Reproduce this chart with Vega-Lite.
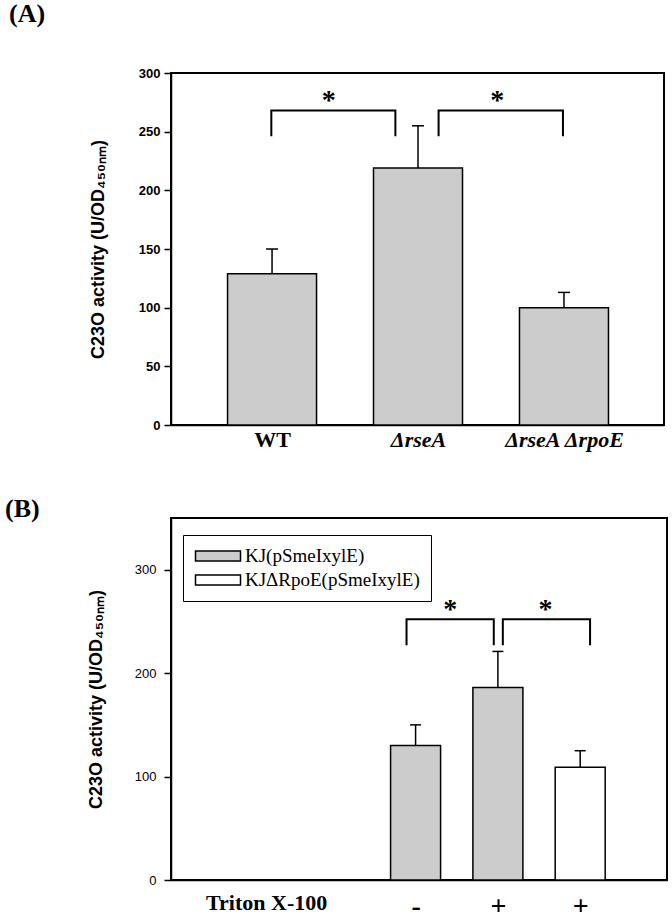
{
  "$schema": "https://vega.github.io/schema/vega-lite/v6.json",
  "background": "white",
  "padding": {"left": 4, "top": 0, "right": 0, "bottom": 0},
  "spacing": 44,
  "resolve": {"scale": {"fill": "independent"}, "legend": {"fill": "independent"}},
  "config": {
    "view": {"stroke": "black", "strokeWidth": 2},
    "axis": {"grid": false, "domainColor": "black", "domainWidth": 1.5, "tickColor": "black", "tickWidth": 1.5, "labelColor": "black", "titleColor": "black", "labelOverlap": false, "labelFlush": false}
  },
  "datasets": {
    "barsA": [
      {"strain": "WT", "pos": 1, "mean": 129, "upper": 150},
      {"strain": "ΔrseA", "pos": 2, "mean": 219, "upper": 255},
      {"strain": "ΔrseAΔrpoE", "pos": 3, "mean": 100, "upper": 113}
    ],
    "bracketsA": [
      {"id": "a1", "o": 1, "x": 0.995, "y": 246},
      {"id": "a1", "o": 2, "x": 0.995, "y": 268},
      {"id": "a1", "o": 3, "x": 1.845, "y": 268},
      {"id": "a1", "o": 4, "x": 1.845, "y": 246},
      {"id": "a2", "o": 1, "x": 2.141, "y": 246},
      {"id": "a2", "o": 2, "x": 2.141, "y": 268},
      {"id": "a2", "o": 3, "x": 2.993, "y": 268},
      {"id": "a2", "o": 4, "x": 2.993, "y": 246}
    ],
    "starsA": [
      {"x": 1.389, "y": 276, "label": "*"},
      {"x": 2.543, "y": 276, "label": "*"}
    ],
    "barsB": [
      {"grp": "KJ(pSmeIxylE)", "triton": "-", "pos": 3, "mean": 130, "upper": 150},
      {"grp": "KJ(pSmeIxylE)", "triton": "+", "pos": 4, "mean": 186, "upper": 221},
      {"grp": "KJΔRpoE(pSmeIxylE)", "triton": "+", "pos": 5, "mean": 109, "upper": 125}
    ],
    "bracketsB": [
      {"id": "b1", "o": 1, "x": 2.89, "y": 227},
      {"id": "b1", "o": 2, "x": 2.89, "y": 252},
      {"id": "b1", "o": 3, "x": 3.95, "y": 252},
      {"id": "b1", "o": 4, "x": 3.95, "y": 227},
      {"id": "b2", "o": 1, "x": 4.06, "y": 227},
      {"id": "b2", "o": 2, "x": 4.06, "y": 252},
      {"id": "b2", "o": 3, "x": 5.12, "y": 252},
      {"id": "b2", "o": 4, "x": 5.12, "y": 227}
    ],
    "starsB": [
      {"x": 3.42, "y": 261, "label": "*"},
      {"x": 4.58, "y": 261, "label": "*"}
    ]
  },
  "vconcat": [
    {
      "width": 493,
      "height": 352,
      "title": {"text": "(A)", "anchor": "start", "frame": "group", "dx": -162, "offset": 40, "font": "Liberation Serif", "fontSize": 26, "fontWeight": "bold", "color": "black"},
      "layer": [
        {
          "data": {"name": "barsA"},
          "mark": {"type": "bar", "orient": "vertical", "size": 89, "fill": "#cccccc", "stroke": "black", "strokeWidth": 1.5},
          "encoding": {
            "x": {"field": "pos", "type": "quantitative", "scale": {"domain": [0.342, 3.651], "nice": false, "zero": false},
              "axis": {"title": null, "values": [1, 2, 3], "ticks": false, "labelPadding": 4,
                "labelExpr": "datum.value == 1 ? 'WT' : datum.value == 2 ? 'ΔrseA' : 'ΔrseA ΔrpoE'",
                "labelFont": "Liberation Serif", "labelFontSize": 22, "labelFontWeight": "bold",
                "labelFontStyle": {"condition": {"test": "datum.value == 1", "value": "normal"}, "value": "italic"}}},
            "y": {"field": "mean", "type": "quantitative", "stack": null, "scale": {"domain": [0, 300], "nice": false},
              "axis": {"title": "C23O activity (U/OD₄₅₀ₙₘ)", "values": [0, 50, 100, 150, 200, 250, 300], "tickSize": 7, "labelPadding": 4,
                "labelFont": "Liberation Sans", "labelFontSize": 13, "labelFontWeight": "bold",
                "titleFont": "Liberation Sans", "titleFontSize": 18, "titleFontWeight": "bold", "titlePadding": 31}}
          }
        },
        {
          "data": {"name": "barsA"},
          "mark": {"type": "rule", "color": "black", "strokeWidth": 1.5},
          "encoding": {
            "x": {"field": "pos", "type": "quantitative"},
            "y": {"field": "mean", "type": "quantitative"},
            "y2": {"field": "upper"}
          }
        },
        {
          "data": {"name": "barsA"},
          "mark": {"type": "tick", "orient": "horizontal", "size": 12, "thickness": 1.5, "color": "black", "opacity": 1},
          "encoding": {
            "x": {"field": "pos", "type": "quantitative"},
            "y": {"field": "upper", "type": "quantitative"}
          }
        },
        {
          "data": {"name": "bracketsA"},
          "mark": {"type": "line", "color": "black", "strokeWidth": 2},
          "encoding": {
            "x": {"field": "x", "type": "quantitative"},
            "y": {"field": "y", "type": "quantitative"},
            "detail": {"field": "id"},
            "order": {"field": "o"}
          }
        },
        {
          "data": {"name": "starsA"},
          "mark": {"type": "text", "font": "Liberation Serif", "fontSize": 28, "fontWeight": "bold", "color": "black", "baseline": "middle"},
          "encoding": {
            "x": {"field": "x", "type": "quantitative"},
            "y": {"field": "y", "type": "quantitative"},
            "text": {"field": "label"}
          }
        }
      ]
    },
    {
      "width": 496,
      "height": 362,
      "title": {"text": "(B)", "anchor": "start", "frame": "group", "dx": -166, "offset": -4, "font": "Liberation Serif", "fontSize": 26, "fontWeight": "bold", "color": "black"},
      "layer": [
        {
          "data": {"name": "barsB"},
          "mark": {"type": "bar", "orient": "vertical", "size": 50, "stroke": "black", "strokeWidth": 1.5},
          "encoding": {
            "x": {"field": "pos", "type": "quantitative", "scale": {"domain": [0.089, 5.994], "nice": false, "zero": false},
              "axis": {"title": null, "values": [1.184, 3, 4, 5], "ticks": false, "labelPadding": 12,
                "labelExpr": "datum.value < 2 ? 'Triton X-100' : datum.value == 3 ? '-' : '+'",
                "labelFont": "Liberation Serif", "labelFontWeight": "bold",
                "labelFontSize": {"condition": {"test": "datum.value < 2", "value": 22}, "value": 28}}},
            "y": {"field": "mean", "type": "quantitative", "stack": null, "scale": {"domain": [0, 350], "nice": false},
              "axis": {"title": "C23O activity (U/OD₄₅₀ₙₘ)", "values": [0, 100, 200, 300], "tickSize": 7, "labelPadding": 8,
                "labelFont": "Liberation Sans", "labelFontSize": 13, "labelFontWeight": "normal",
                "titleFont": "Liberation Sans", "titleFontSize": 18, "titleFontWeight": "bold", "titlePadding": 29}},
            "fill": {"field": "grp", "type": "nominal",
              "scale": {"domain": ["KJ(pSmeIxylE)", "KJΔRpoE(pSmeIxylE)"], "range": ["#cccccc", "white"]},
              "legend": {"title": null, "orient": "none", "legendX": 12, "legendY": 17,
                "symbolType": "M-2.5,-0.55L2.5,-0.55L2.5,0.55L-2.5,0.55Z", "symbolSize": 324, "symbolOffset": 14,
                "symbolStrokeColor": "black", "symbolStrokeWidth": 1.5,
                "labelFont": "Liberation Serif", "labelFontSize": 19, "labelColor": "black", "labelLimit": 400, "labelOffset": 17,
                "strokeColor": "black", "fillColor": "white", "padding": 11, "rowPadding": 4}}
          }
        },
        {
          "data": {"name": "barsB"},
          "mark": {"type": "rule", "color": "black", "strokeWidth": 1.5},
          "encoding": {
            "x": {"field": "pos", "type": "quantitative"},
            "y": {"field": "mean", "type": "quantitative"},
            "y2": {"field": "upper"}
          }
        },
        {
          "data": {"name": "barsB"},
          "mark": {"type": "tick", "orient": "horizontal", "size": 11, "thickness": 1.5, "color": "black", "opacity": 1},
          "encoding": {
            "x": {"field": "pos", "type": "quantitative"},
            "y": {"field": "upper", "type": "quantitative"}
          }
        },
        {
          "data": {"name": "bracketsB"},
          "mark": {"type": "line", "color": "black", "strokeWidth": 2},
          "encoding": {
            "x": {"field": "x", "type": "quantitative"},
            "y": {"field": "y", "type": "quantitative"},
            "detail": {"field": "id"},
            "order": {"field": "o"}
          }
        },
        {
          "data": {"name": "starsB"},
          "mark": {"type": "text", "font": "Liberation Serif", "fontSize": 28, "fontWeight": "bold", "color": "black", "baseline": "middle"},
          "encoding": {
            "x": {"field": "x", "type": "quantitative"},
            "y": {"field": "y", "type": "quantitative"},
            "text": {"field": "label"}
          }
        }
      ]
    }
  ]
}
